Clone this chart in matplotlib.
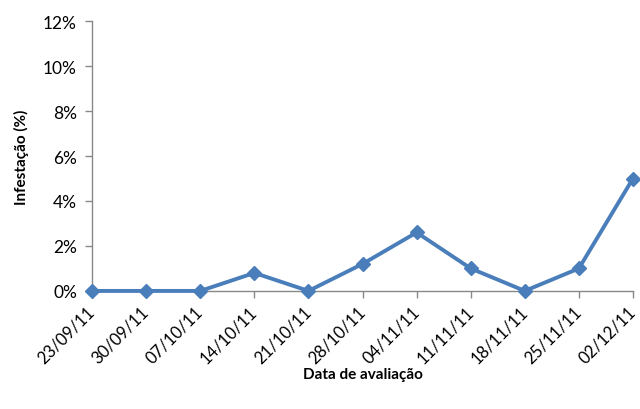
import matplotlib
matplotlib.use("Agg")
import matplotlib.pyplot as plt
from matplotlib.ticker import FuncFormatter, MultipleLocator

dates = ["23/09/11", "30/09/11", "07/10/11", "14/10/11", "21/10/11", "28/10/11",
         "04/11/11", "11/11/11", "18/11/11", "25/11/11", "02/12/11"]
infest = [0.0, 0.0, 0.0, 0.8, 0.0, 1.2, 2.6, 1.0, 0.0, 1.0, 5.0]

plt.rcParams['font.family'] = ['Lato', 'DejaVu Sans']

fig = plt.figure(figsize=(6.4, 4.1), dpi=100)
ax = fig.add_axes([0.144, 0.288, 0.845, 0.658])

x = list(range(len(dates)))
ax.plot(x, infest, color='#4A7EBB', lw=2.8, marker='D', markersize=7.5, clip_on=False, zorder=3)

ax.set_xlim(0, len(dates) - 1)
ax.set_ylim(0, 12)
ax.yaxis.set_major_locator(MultipleLocator(2))
ax.yaxis.set_major_formatter(FuncFormatter(lambda v, p: f"{v:.0f}%"))
ax.set_xticks(x)
ax.set_xticklabels(dates, rotation=45, ha='right', va='center', rotation_mode='anchor', fontsize=12)
for lab in ax.get_yticklabels():
    lab.set_fontsize(12.5)

for s in ['top', 'right']:
    ax.spines[s].set_visible(False)
for s in ['left', 'bottom']:
    ax.spines[s].set_color('#888888')
    ax.spines[s].set_linewidth(1)
ax.tick_params(axis='both', color='#888888', length=5, width=1, labelcolor='black')
ax.tick_params(axis='x', pad=8)
ax.tick_params(axis='y', pad=6)

ax.set_ylabel("Infestação (%)", fontsize=11, fontweight='bold', labelpad=10)
ax.set_xlabel("Data de avaliação", fontsize=11, fontweight='bold', labelpad=1)

fig.savefig("out.png", dpi=100)
